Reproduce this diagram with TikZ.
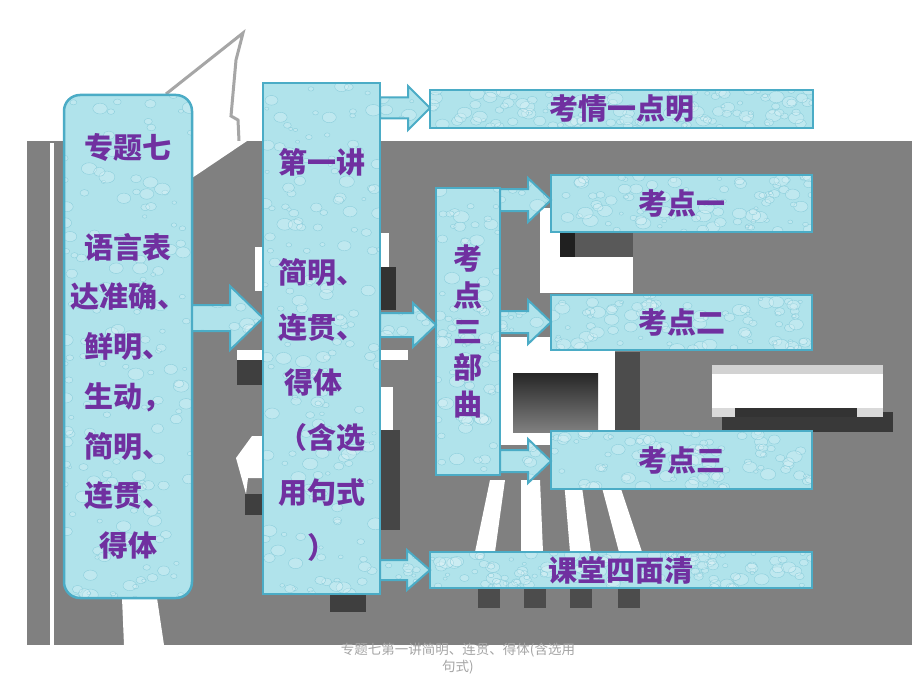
\documentclass[tikz,border=0pt]{standalone}
\usepackage{fontspec}
\newfontfamily\cjk{Noto Sans CJK SC}
\usetikzlibrary{calc,positioning}

\definecolor{bggray}{RGB}{128,128,128}
\definecolor{boxfill}{RGB}{176,227,235}
\definecolor{boxline}{RGB}{75,172,198}
\definecolor{dropline}{RGB}{140,206,220}
\definecolor{txtpurple}{RGB}{112,48,160}
\definecolor{footgray}{RGB}{165,165,165}

\tikzset{
  drops/.style={path picture={
    \path (path picture bounding box.south west) coordinate (dsw)
          (path picture bounding box.north east) coordinate (dne);
    \foreach \k in {1,...,#1}{
      \pgfmathsetmacro\dx{rnd}\pgfmathsetmacro\dy{rnd}\pgfmathsetmacro\dr{2+6*rnd}
      \draw[dropline, line width=0.4pt, fill=white, fill opacity=.2] let \p1=(dsw), \p2=(dne) in
        (\x1+\dx*\x2-\dx*\x1, \y1+\dy*\y2-\dy*\y1) ellipse ({\dr pt} and {0.75*\dr pt});
    }
  }},
  box/.style={draw=boxline, line width=2.5pt, fill=boxfill, inner sep=0pt, outer sep=0pt,
    text=txtpurple, font=\cjk\bfseries\fontsize{29pt}{36.3pt}\selectfont, align=center},
  txt/.style={text=txtpurple, font=\cjk\bfseries\fontsize{29pt}{55pt}\selectfont, align=center},
  blockarr/.style={draw=boxline, line width=2pt, fill=boxfill, line join=miter, drops=10},
  foot/.style={text=footgray, font=\cjk\fontsize{13.5pt}{17pt}\selectfont, align=center}
}

% block arrow: from, to, level, half shaft, half head, head length
\newcommand{\blkarrow}[6]{%
  \coordinate (arS) at (#1.east |- 0,#3);
  \coordinate (arT) at (#2.west |- 0,#3);
  \draw[blockarr] ($(arS)+(0,-#4)$) -- ($(arT)+(-#6,-#4)$) -- ($(arT)+(-#6,-#5)$) -- (arT)
    -- ($(arT)+(-#6,#5)$) -- ($(arT)+(-#6,#4)$) -- ($(arS)+(0,#4)$) -- cycle;
}

\begin{document}
\begin{tikzpicture}[x=1pt,y=-1pt]
\pgfmathsetseed{11}
\useasboundingbox (0,0) rectangle (920,690);
\fill[white] (0,0) rectangle (920,690);

%Background photo
\fill[bggray] (27,141) rectangle (912,645);
\fill[white] (50,143) rectangle (54,645);
\fill[white] (122,598) -- (157,598) -- (164,645) -- (124,645) -- cycle;
\draw[gray!70, line width=3pt] (166,94) -- (243,33) -- (236,60) -- (231,116) -- (238,120) -- (239,141);
\fill[white] (192,141) -- (247,141) -- (192,178) -- cycle;
\fill[white] (255,247) rectangle (263,291);
\fill[white] (380,233) rectangle (389,267);
\fill[black, opacity=.6] (380,267) rectangle (396,310);
\fill[white] (237,350) rectangle (263,360);
\fill[black, opacity=.5] (237,360) rectangle (263,385);
\fill[white] (380,350) rectangle (408,360);
\fill[white] (380,387) rectangle (393,430);
\fill[black, opacity=.45] (380,430) rectangle (400,530);
\fill[white] (236,458) -- (252,436) -- (263,436) -- (263,478) -- (248,478) -- (246,494) -- cycle;
\fill[black, opacity=.5] (245,494) rectangle (263,515);
\fill[black, opacity=.5] (330,594) rectangle (366,612);
\fill[white] (540,208) rectangle (560,293);
\fill[white] (560,257) rectangle (633,293);
\fill[black, opacity=.75] (560,232) rectangle (575,257);
\fill[black, opacity=.3] (575,232) rectangle (633,257);
\fill[white] (500,337) rectangle (615,445);
\shade[top color=black!85, bottom color=bggray] (513,373) rectangle (598,432);
\fill[black, opacity=.4] (615,352) rectangle (640,432);
\fill[white] (490,480) -- (505,480) -- (495,552) -- (475,552) -- cycle;
\fill[white] (521,480) -- (540,480) -- (543,552) -- (521,552) -- cycle;
\fill[white] (564,480) -- (581,480) -- (591,552) -- (570,552) -- cycle;
\fill[white] (600,480) -- (618,480) -- (642,552) -- (619,552) -- cycle;
\foreach \sx in {478,524,570,618}
  \fill[black, opacity=.4] (\sx,588) rectangle (\sx+22,608);
\fill[black, opacity=.55] (722,412) rectangle (893,432);
\fill[gray!35] (712,365) rectangle (883,374);
\fill[white] (712,374) rectangle (883,408);
\fill[black!80] (712,408) rectangle (883,417);
\fill[gray!30] (712,408) rectangle (735,417);
\fill[gray!30] (857,408) rectangle (883,417);

%Boxes
\node[box, drops=170, rounded corners=16pt, minimum width=128pt, minimum height=503pt,
  font=\cjk\bfseries\fontsize{29pt}{49.7pt}\selectfont] (zhuanti) at (128,346.5)
  {专题七\\[49.7pt]语言表\\达准确、\\鲜明、\\生动，\\简明、\\连贯、\\得体};
\node[box, drops=170, minimum width=117pt, minimum height=511pt] (jiang) at (321.5,338.5) {};
\node[txt] (jiangtxt) at (322,355)
  {第一讲\\[55pt]简明、\\连贯、\\得体\kern18pt\\（含选\\用句式\\）};
\node[box, drops=120, minimum width=383pt, minimum height=38pt] (kaoqing) at (621.5,109) {考情一点明};
\node[box, drops=80, minimum width=64pt, minimum height=287pt] (sanbu) at (468,331.5)
  {考\\点\\三\\部\\曲};
\node[box, drops=90, minimum width=261pt, minimum height=57pt] (kd1) at (681.5,203.5) {考点一};
\node[box, drops=90, minimum width=261pt, minimum height=55pt] (kd2) at (681.5,322.5) {考点二};
\node[box, drops=90, minimum width=261pt, minimum height=58pt] (kd3) at (681.5,460) {考点三};
\node[box, drops=120, minimum width=382pt, minimum height=36pt] (ketang) at (621,570) {课堂四面清};

%Arrows
\blkarrow{zhuanti}{jiang}{318}{13}{32}{33}
\blkarrow{jiang}{kaoqing}{108}{10.5}{22}{22}
\blkarrow{jiang}{sanbu}{325}{12}{22}{23}
\blkarrow{sanbu}{kd1}{200}{11}{22}{23}
\blkarrow{sanbu}{kd2}{322}{11}{22}{23}
\blkarrow{sanbu}{kd3}{461}{11}{22}{23}
\blkarrow{jiang}{ketang}{570}{10}{20}{23}

%Footer
\node[foot] (footer) at (458,659) {专题七第一讲简明、连贯、得体(含选用\\句式)};
\end{tikzpicture}
\end{document}
